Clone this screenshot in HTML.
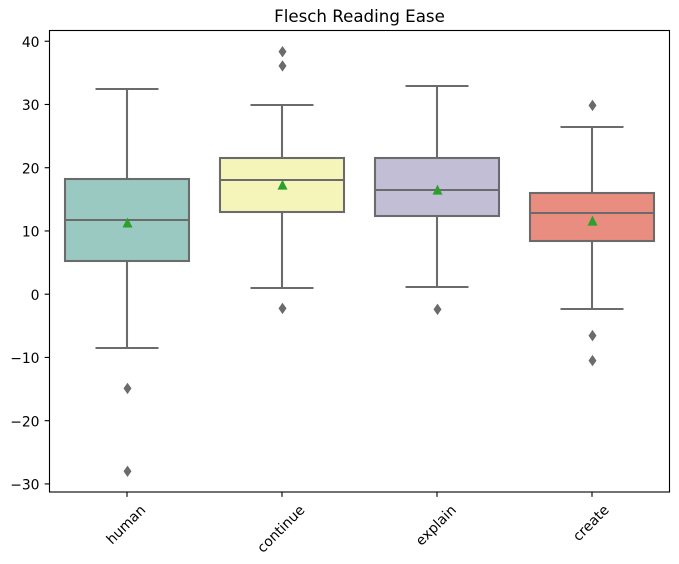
<!DOCTYPE html>
<html>
<head>
<meta charset="utf-8">
<title>Flesch Reading Ease</title>
<style>
html,body{margin:0;padding:0;background:#fff;width:679px;height:564px;overflow:hidden}
svg{display:block}
text{font-family:"DejaVu Sans","Liberation Sans",sans-serif;fill:#000}
</style>
</head>
<body>
<svg id="chart" width="679" height="564" viewBox="0 0 679 564" xmlns="http://www.w3.org/2000/svg"></svg>
<script>
const categories = ['human', 'continue', 'explain', 'create'];
const whiskerHigh = [32.45, 29.9, 32.9, 26.5];
const whiskerLow = [-8.45, 1.0, 1.2, -2.35];
const quartile3 = [18.2, 21.5, 21.5, 16.0];
const quartile1 = [5.3, 13.05, 12.4, 8.45];
const medians = [11.7, 18.05, 16.5, 12.9];
const means = [11.3, 17.3, 16.5, 11.6];
const outliers = [[-14.9, -28.0], [38.35, 36.1, -2.25], [-2.4], [29.85, -6.55, -10.5]];
const yTicks = [40, 30, 20, 10, 0, -10, -20, -30];
const fills = ['#99c9c1', '#f6f5b9', '#c1bed6', '#e98d81'];

const NS = 'http://www.w3.org/2000/svg';
const svg = document.getElementById('chart');
const plot = {left: 49.5, right: 669.5, top: 30.5, bottom: 492};
const yScale = v => 294.2 - 6.324 * v;
const xScale = i => plot.left + (i + 0.5) * (plot.right - plot.left) / categories.length;
const GRAY = '#6b6b6b';
const LW = 2.08;

function mk(tag, attrs, parent) {
  const e = document.createElementNS(NS, tag);
  for (const k in attrs) e.setAttribute(k, attrs[k]);
  (parent || svg).appendChild(e);
  return e;
}
let el;

el = mk('rect', {x: 0, y: 0, width: 679, height: 564, fill: '#fff'});



el = mk('text', {x: 359.5, y: 22, 'font-size': 16.67, 'text-anchor': 'middle'});
el.textContent = 'Flesch Reading Ease';



categories.forEach((cat, i) => {
  const cx = xScale(i);
  const hw = 62, capHw = 31.5;
  const g = mk('g', {});
  
  

  const yQ3 = Math.round(yScale(quartile3[i]));
  const yQ1 = Math.round(yScale(quartile1[i]));
  const yMed = Math.round(yScale(medians[i]));
  const yHi = Math.round(yScale(whiskerHigh[i]));
  const yLo = Math.round(yScale(whiskerLow[i]));
  const line = (x1, y1, x2, y2) => mk('line', {x1, y1, x2, y2, stroke: GRAY, 'stroke-width': LW}, g);

  el = line(cx, yQ3, cx, yHi);
  
  

  el = line(cx, yQ1, cx, yLo);
  
  

  el = line(cx - capHw, yHi, cx + capHw, yHi);
  
  

  el = line(cx - capHw, yLo, cx + capHw, yLo);
  
  

  el = mk('rect', {x: cx - hw, y: yQ3, width: 2 * hw, height: yQ1 - yQ3, fill: fills[i], stroke: GRAY, 'stroke-width': LW}, g);
  
  

  el = line(cx - hw, yMed, cx + hw, yMed);
  
  

  outliers[i].forEach(v => {
    const y = yScale(v), ox = cx + 0.5;
    el = mk('polygon', {points: `${ox},${y - 5.7} ${ox + 4},${y} ${ox},${y + 5.7} ${ox - 4},${y}`, fill: GRAY}, g);
    
    
  });

  const ym = yScale(means[i]), mx = cx + 0.5;
  el = mk('polygon', {points: `${mx},${ym - 5.2} ${mx + 5},${ym + 4.8} ${mx - 5},${ym + 4.8}`, fill: '#2ca02c'}, g);
  
  
});

el = mk('rect', {x: plot.left, y: plot.top, width: plot.right - plot.left, height: plot.bottom - plot.top, fill: 'none', stroke: '#000', 'stroke-width': 1.11});



yTicks.forEach(t => {
  const y = yScale(t);
  el = mk('line', {x1: plot.left - 4.86, y1: y, x2: plot.left, y2: y, stroke: '#000', 'stroke-width': 1.11});
  
  

  el = mk('text', {x: 39.5, y: y + 5.6, 'font-size': 13.89, 'text-anchor': 'end'});
  el.textContent = t < 0 ? '\u2212' + Math.abs(t) : String(t);
  
  
});

categories.forEach((cat, i) => {
  const cx = xScale(i);
  el = mk('line', {x1: cx, y1: plot.bottom, x2: cx, y2: plot.bottom + 4.86, stroke: '#000', 'stroke-width': 1.11});
  
  

  el = mk('text', {x: 0, y: 0, 'font-size': 13.89, 'text-anchor': 'middle'});
  el.textContent = cat;
  
  
  const w = el.getComputedTextLength();
  const h = 13;
  const cy = plot.bottom + 11 + (w + h) * Math.SQRT1_2 / 2;
  el.setAttribute('transform', `translate(${cx - 1},${cy}) rotate(-45) translate(0,4.5)`);
});
</script>
</body>
</html>
